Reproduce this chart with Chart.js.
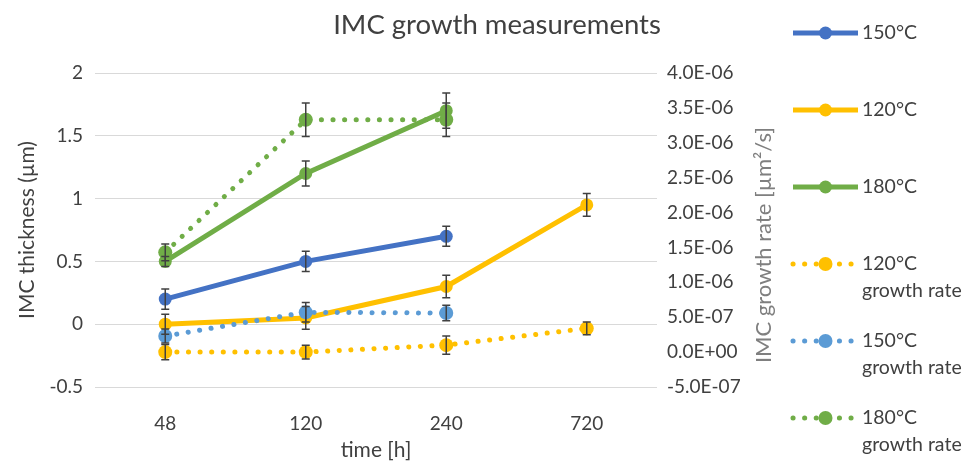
<!DOCTYPE html>
<html lang="en">
<head>
<meta charset="UTF-8">
<title>IMC growth measurements</title>
<style>
  body { margin: 0; background: #fff; }
  #wrap { width: 973px; height: 463px; }
</style>
</head>
<body>
<div id="wrap"><canvas id="imcChart"></canvas></div>
<script src="https://cdn.jsdelivr.net/npm/chart.js"></script>
<script>
  // categories
  const hours = ['48', '120', '240', '720'];

  // IMC thickness (left axis, um)
  const thick150 = [0.2, 0.5, 0.7, null];
  const thick120 = [0, 0.05, 0.3, 0.95];
  const thick180 = [0.5, 1.2, 1.7, null];
  const thickErr150 = [0.08, 0.08, 0.08, null];
  const thickErr120 = [0.08, 0.09, 0.09, 0.09];
  const thickErr180 = [0.04, 0.1, 0.14, null];

  // growth rate (right axis, um^2/s)
  const rate120 = [0, 0, 1.0e-7, 3.4e-7];
  const rate150 = [2.3e-7, 5.7e-7, 5.6e-7, null];
  const rate180 = [1.43e-6, 3.33e-6, 3.33e-6, null];
  const rateErr120 = [1.1e-7, 1.0e-7, 1.3e-7, 0.9e-7];
  const rateErr150 = [1.0e-7, 1.4e-7, 1.1e-7, null];
  const rateErr180 = [1.2e-7, 2.4e-7, 2.4e-7, null];

  // tick labels
  const thickTicks = [-0.5, 0, 0.5, 1, 1.5, 2];
  const rateTicks = [-5e-7, 0, 5e-7, 1e-6, 1.5e-6, 2e-6, 2.5e-6, 3e-6, 3.5e-6, 4e-6];

  const BLUE = '#4472C4', YELLOW = '#FFC000', GREEN = '#70AD47', LBLUE = '#5B9BD5';
  const TEXT = '#404040';
  const FONT = 'Lato, "Open Sans", sans-serif';
  const DOTS = [0.1, 11.5];

  function fmtExp(v) {
    const s = v.toExponential(1).toUpperCase();
    return s.replace(/E([+-])(\d)$/, 'E$10$2');
  }

  function solid(label, data, errs, color) {
    return { label, data, errors: errs, yAxisID: 'y', borderColor: color, backgroundColor: color,
      borderWidth: 5, pointRadius: 6.5, pointBorderWidth: 0, spanGaps: false, dotted: false };
  }
  function dotted(label, data, errs, color) {
    return { label, data, errors: errs, yAxisID: 'y1', borderColor: color, backgroundColor: color,
      borderWidth: 5, borderDash: DOTS, borderCapStyle: 'round', pointRadius: 7, pointBorderWidth: 0,
      spanGaps: false, dotted: true };
  }

  const datasets = [
    solid('150°C', thick150, thickErr150, BLUE),
    solid('120°C', thick120, thickErr120, YELLOW),
    solid('180°C', thick180, thickErr180, GREEN),
    dotted('120°C\ngrowth rate', rate120, rateErr120, YELLOW),
    dotted('150°C\ngrowth rate', rate150, rateErr150, LBLUE),
    dotted('180°C\ngrowth rate', rate180, rateErr180, GREEN)
  ];
  datasets.forEach((d, i) => { d.order = datasets.length - 1 - i; });

  const errorBars = {
    id: 'errorBars',
    afterDatasetsDraw(chart) {
      const ctx = chart.ctx;
      chart.data.datasets.forEach((ds, i) => {
        const meta = chart.getDatasetMeta(i);
        const ys = chart.scales[ds.yAxisID];
        ctx.save();
        ctx.strokeStyle = '#404040';
        ctx.lineWidth = 1.5;
        meta.data.forEach((pt, j) => {
          const v = ds.data[j], e = ds.errors[j];
          if (v == null || e == null) return;
          const t = ys.getPixelForValue(v + e), b = ys.getPixelForValue(v - e);
          ctx.beginPath();
          ctx.moveTo(pt.x, t); ctx.lineTo(pt.x, b);
          ctx.moveTo(pt.x - 4, t); ctx.lineTo(pt.x + 4, t);
          ctx.moveTo(pt.x - 4, b); ctx.lineTo(pt.x + 4, b);
          ctx.stroke();
        });
        ctx.restore();
      });
    }
  };

  // title, right axis title and legend
  const extras = {
    id: 'extras',
    afterDraw(chart) {
      const ctx = chart.ctx;
      const area = chart.chartArea;
      ctx.save();
      ctx.fillStyle = TEXT;
      ctx.textAlign = 'center';
      ctx.textBaseline = 'middle';
      ctx.font = '27.5px ' + FONT;
      ctx.fillText('IMC growth measurements', 497, 25);

      ctx.save();
      ctx.translate(area.right + 107, 245);
      ctx.rotate(-Math.PI / 2);
      ctx.fillStyle = '#7f7f7f';
      ctx.font = '22px ' + FONT;
      ctx.fillText('IMC growth rate [µm²/s]', 0, 0);
      ctx.restore();

      const lx = 793, lw = 65;
      chart.data.datasets.forEach((ds, i) => {
        const y = 33 + 77 * i;
        ctx.save();
        ctx.strokeStyle = ds.borderColor;
        ctx.lineWidth = 5;
        if (ds.dotted) { ctx.setLineDash(DOTS); ctx.lineCap = 'round'; }
        ctx.beginPath();
        ctx.moveTo(lx, y); ctx.lineTo(lx + lw, y);
        ctx.stroke();
        ctx.setLineDash([]);
        ctx.fillStyle = ds.backgroundColor;
        ctx.beginPath();
        ctx.arc(lx + lw / 2, y, ds.pointRadius, 0, Math.PI * 2);
        ctx.fill();
        ctx.restore();
        ctx.textAlign = 'left';
        ctx.font = '19.5px ' + FONT;
        ds.label.split('\n').forEach((line, k) => ctx.fillText(line, lx + lw + 4, y + 27 * k));
      });
      ctx.restore();
    }
  };

  new Chart(document.getElementById('imcChart'), {
    type: 'line',
    data: { labels: hours, datasets },
    options: {
      responsive: true,
      maintainAspectRatio: false,
      animation: false,
      layout: { padding: { top: 73, right: 186, left: 0, bottom: 0 } },
      plugins: { legend: { display: false }, tooltip: { enabled: false } },
      scales: {
        x: {
          offset: true,
          grid: { display: false },
          border: { display: false },
          ticks: { color: TEXT, font: { family: FONT, size: 19 }, padding: 17 },
          title: { display: true, text: 'time [h]', color: TEXT, font: { family: FONT, size: 21 }, padding: { top: 0, bottom: 0 } },
          afterFit(s) { s.height = 76; }
        },
        y: {
          position: 'left',
          min: -0.5, max: 2,
          afterBuildTicks(s) { s.ticks = thickTicks.map(v => ({ value: v })); },
          grid: { color: '#d9d9d9', lineWidth: 1, drawTicks: false },
          border: { display: false },
          ticks: { color: TEXT, font: { family: FONT, size: 19 }, padding: 12, callback: v => String(v) },
          title: { display: true, text: 'IMC thickness (µm)', color: TEXT, font: { family: FONT, size: 21 }, padding: { top: 15, bottom: 0 } },
          afterFit(s) { s.width = 95; }
        },
        y1: {
          position: 'right',
          min: -5e-7, max: 4e-6,
          afterBuildTicks(s) { s.ticks = rateTicks.map(v => ({ value: v })); },
          grid: { display: false, drawTicks: false },
          border: { display: false },
          ticks: { color: TEXT, font: { family: FONT, size: 19 }, padding: 10, callback: v => fmtExp(v) },
          afterFit(s) { s.width = 130; }
        }
      }
    },
    plugins: [errorBars, extras]
  });
</script>
</body>
</html>
